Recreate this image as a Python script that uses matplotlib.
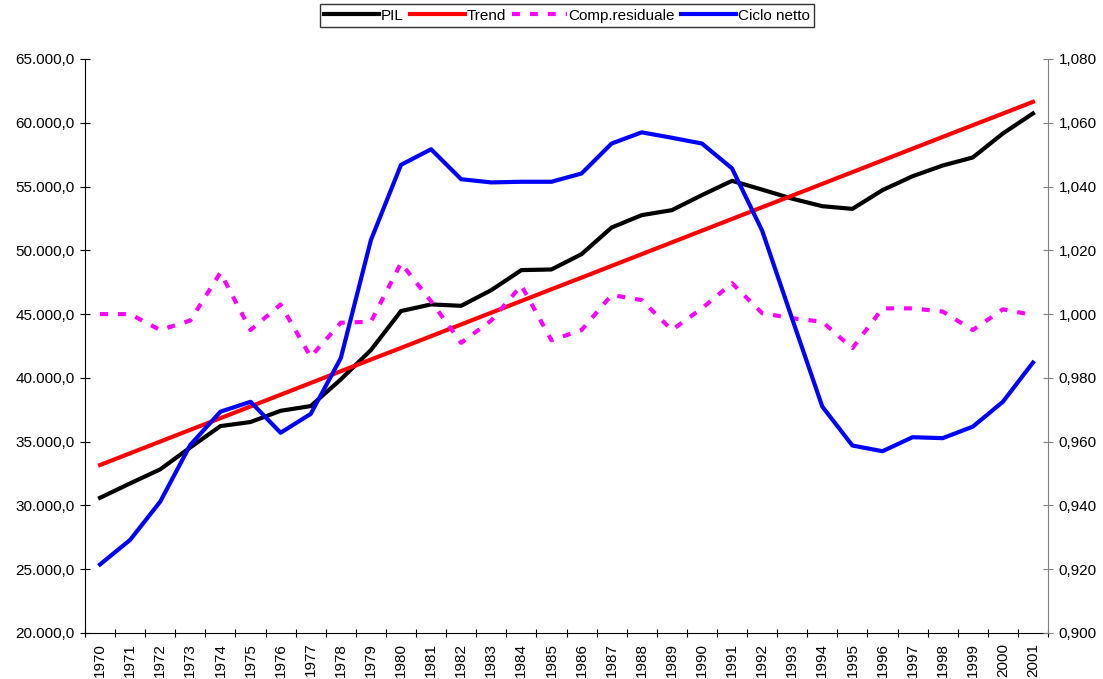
import matplotlib
matplotlib.use('Agg')
import matplotlib.pyplot as plt
from matplotlib.ticker import FuncFormatter, FixedLocator

plt.rcParams['font.family'] = ['Liberation Sans', 'DejaVu Sans']

years = list(range(1970, 2002))

pil = [30600, 31730, 32830, 34550, 36220, 36540, 37420, 37790, 39880, 42180,
       45240, 45760, 45650, 46880, 48450, 48500, 49700, 51790, 52760, 53150,
       54330, 55450, 54760, 54050, 53460, 53250, 54720, 55810, 56650, 57280,
       59160, 60730]

trend = [33170, 34090, 35010, 35930, 36840, 37760, 38680, 39600, 40520, 41440,
         42350, 43270, 44190, 45110, 46030, 46950, 47860, 48780, 49700, 50620,
         51540, 52460, 53380, 54290, 55210, 56130, 57050, 57970, 58890, 59810,
         60720, 61640]

comp_res = [1.000, 1.000, 0.995, 0.998, 1.013, 0.995, 1.003, 0.9866, 0.9973, 0.9976,
            1.016, 1.004, 0.991, 0.998, 1.009, 0.9918, 0.995, 1.006, 1.0044, 0.995,
            1.0018, 1.0097, 1.0003, 0.9987, 0.9976, 0.9893, 1.0018, 1.0018, 1.0008, 0.995,
            1.0015, 0.9997]

ciclo = [0.9215, 0.9292, 0.9412, 0.959, 0.9694, 0.9725, 0.9628, 0.9687, 0.9862, 1.0232,
         1.0468, 1.0517, 1.0423, 1.0413, 1.0415, 1.0415, 1.0441, 1.0535, 1.057, 1.0553,
         1.0535, 1.0457, 1.0262, 0.9985, 0.971, 0.9588, 0.957, 0.9614, 0.9611, 0.9647,
         0.9725, 0.9848]


def fmt_left(v, pos):
    s = f'{v:,.1f}'
    return s.replace(',', 'X').replace('.', ',').replace('X', '.')


def fmt_right(v, pos):
    return f'{v:.3f}'.replace('.', ',')


fig = plt.figure(figsize=(11.03, 6.79), dpi=100)
ax = fig.add_axes([85 / 1103, 1 - 633 / 679, (1048 - 85) / 1103, (633 - 59) / 679])
ax2 = ax.twinx()

x = list(range(len(years)))
l1, = ax.plot(x, pil, color='black', lw=3, label='PIL', zorder=3)
l2, = ax.plot(x, trend, color='#ff0000', lw=3, label='Trend', zorder=3)
l3, = ax2.plot(x, comp_res, color='#ff00ff', lw=3, dashes=(1.9, 2.4),
               dash_capstyle='butt', label='Comp.residuale')
l4, = ax2.plot(x, ciclo, color='#0000ff', lw=3, label='Ciclo netto')

ax.set_xlim(-0.5, len(years) - 0.5)
ax.set_ylim(20000, 65000)
ax2.set_ylim(0.900, 1.080)
ax.set_yticks(range(20000, 65001, 5000))
ax2.set_yticks([0.900 + 0.02 * i for i in range(10)])
ax.yaxis.set_major_formatter(FuncFormatter(fmt_left))
ax2.yaxis.set_major_formatter(FuncFormatter(fmt_right))

ax.xaxis.set_major_locator(FixedLocator([i - 0.5 for i in range(len(years) + 1)]))
ax.xaxis.set_minor_locator(FixedLocator(x))
ax.set_xticklabels([])
ax.set_xticklabels([str(y) for y in years], minor=True, rotation=90)
ax.tick_params(axis='x', which='minor', length=0, labelsize=11, pad=7)
ax.tick_params(axis='x', which='major', direction='inout', length=6, width=0.8)
ax.tick_params(axis='y', direction='inout', length=7, width=0.8, labelsize=11, pad=4)
ax2.tick_params(axis='y', direction='inout', length=7, width=0.8, labelsize=11,
                pad=4, color='#808080')

ax.spines['top'].set_visible(False)
ax2.spines['top'].set_visible(False)
ax2.spines['left'].set_visible(False)
ax2.spines['bottom'].set_visible(False)
ax.spines['right'].set_visible(False)
ax2.spines['right'].set_color('#808080')

leg = fig.legend(handles=[l1, l2, l3, l4], loc='upper center',
                 bbox_to_anchor=(567 / 1103, 1 - 4 / 679), ncol=4, fontsize=11,
                 frameon=True, fancybox=False, handlelength=3.6, handletextpad=0.1,
                 columnspacing=0.4, borderpad=0.3, borderaxespad=0)
leg.get_frame().set_edgecolor('black')
leg.get_frame().set_linewidth(1)

fig.savefig('out.png', dpi=100)
